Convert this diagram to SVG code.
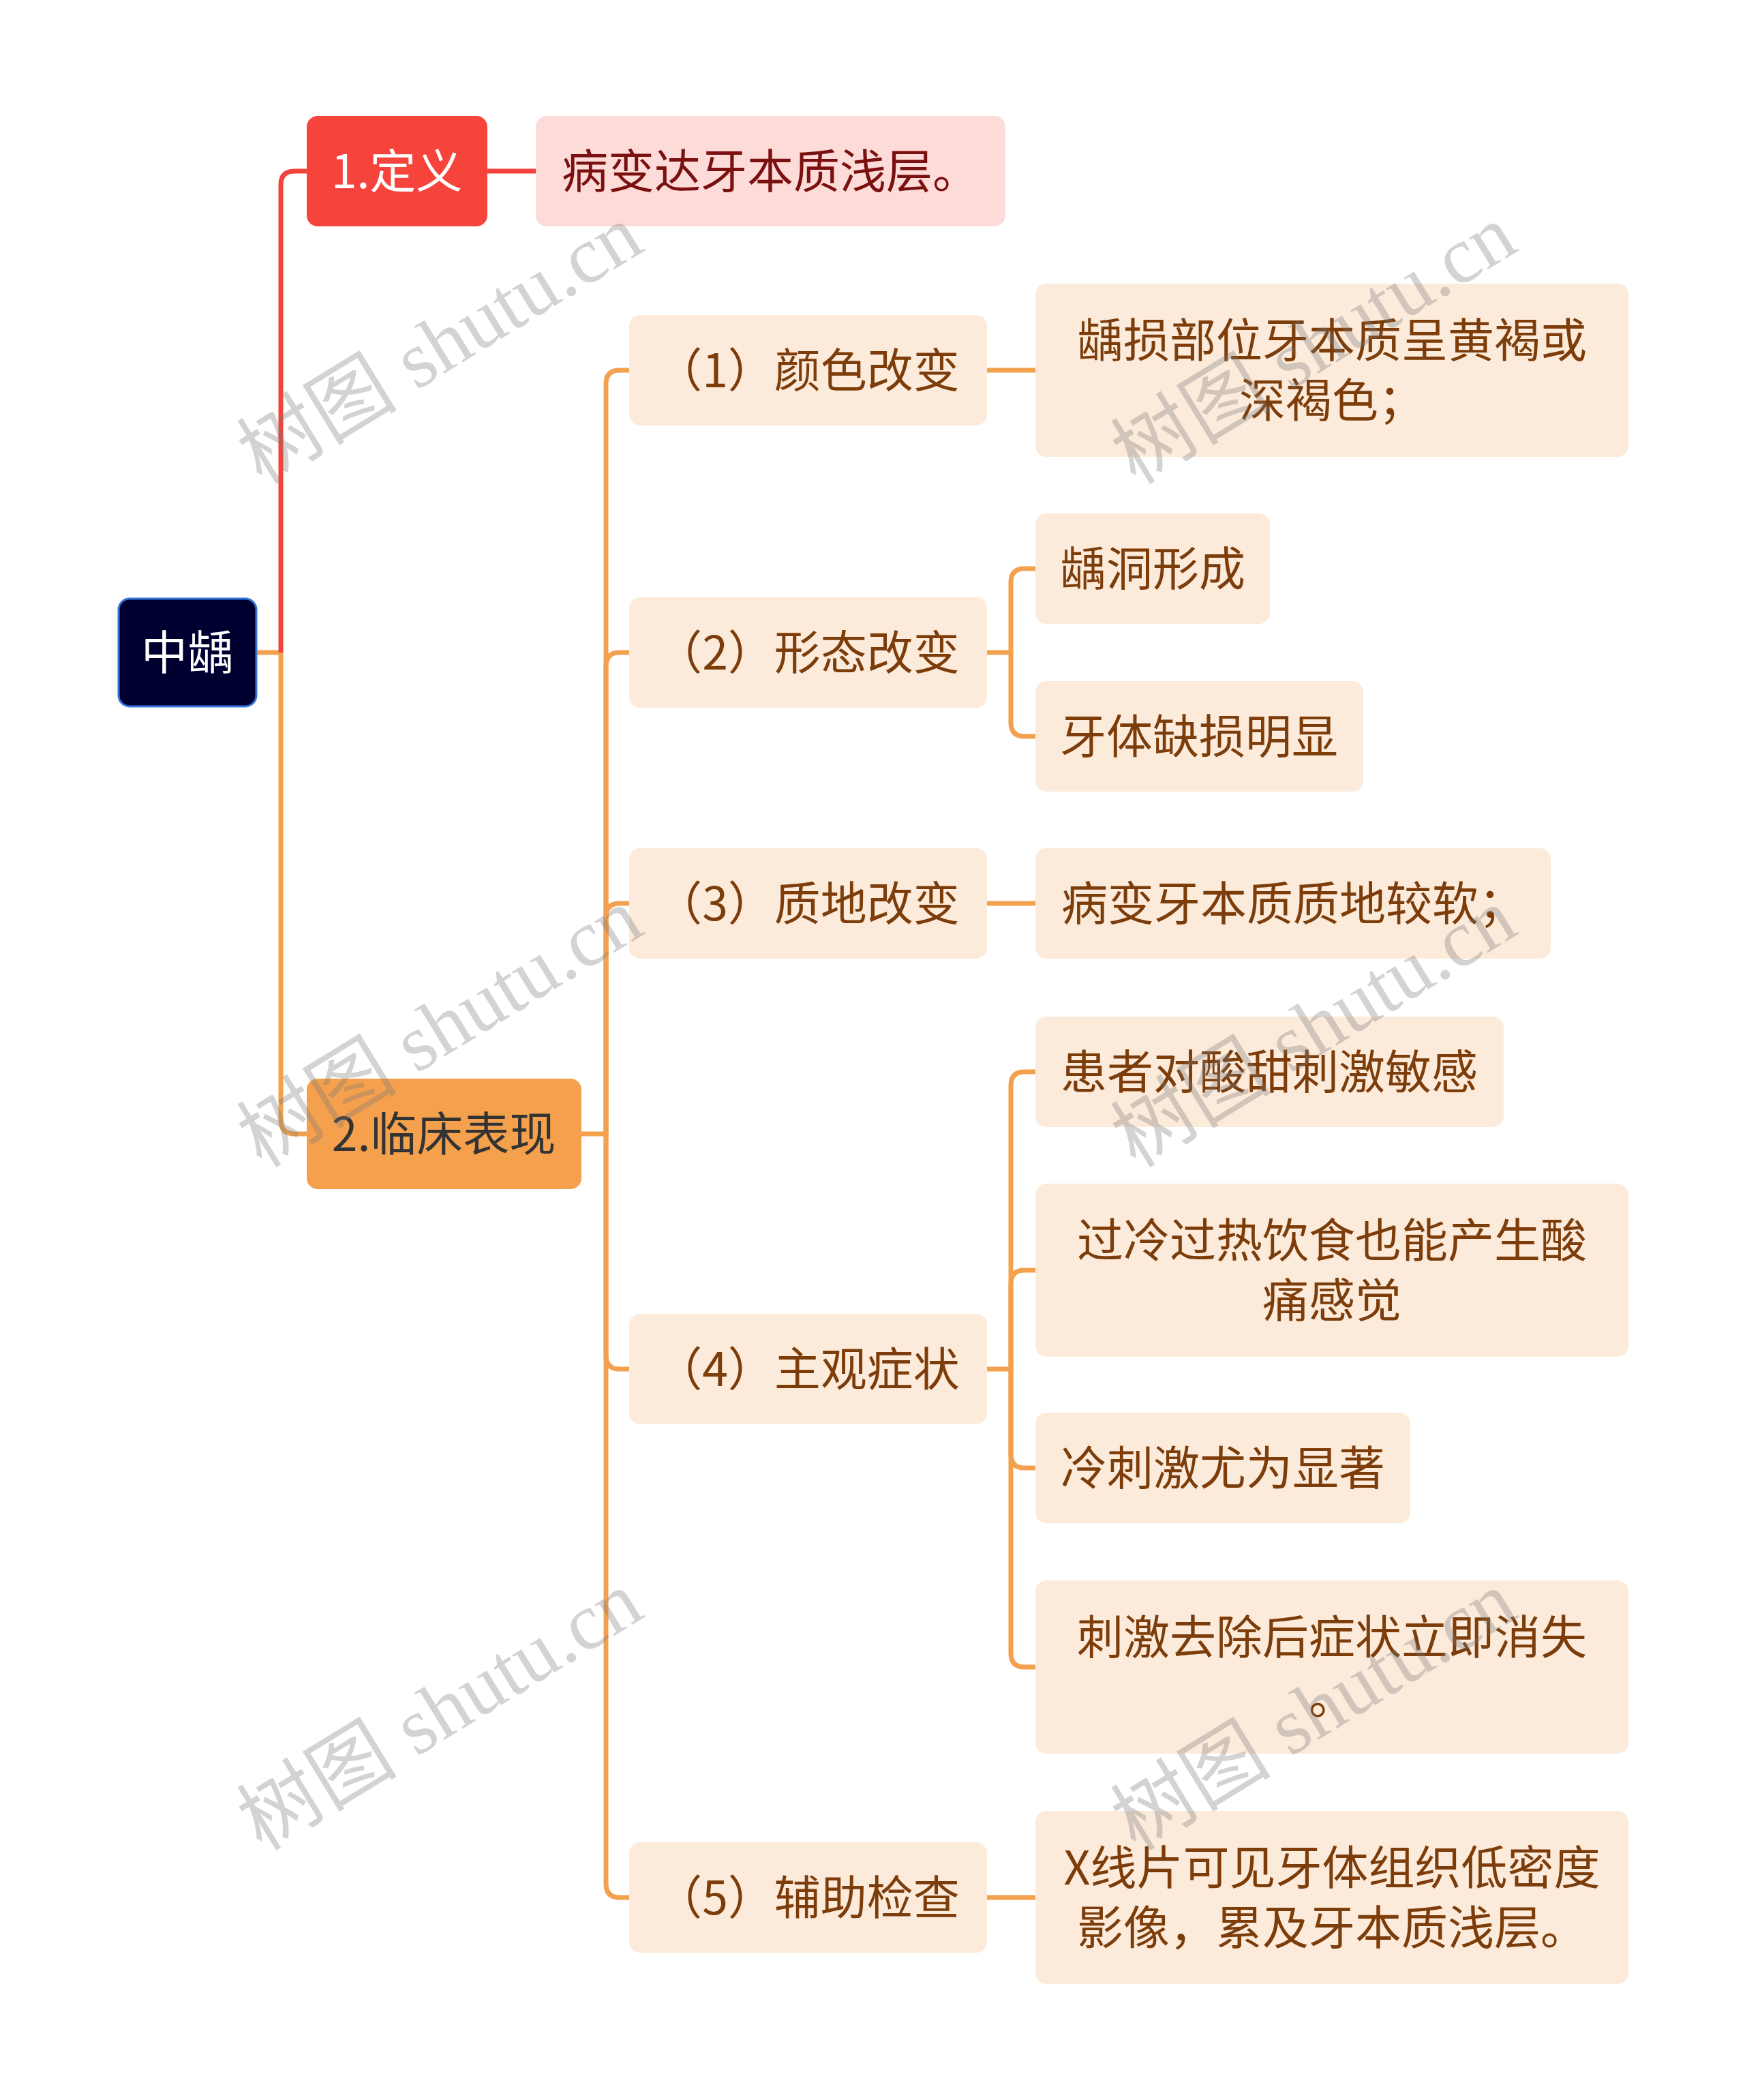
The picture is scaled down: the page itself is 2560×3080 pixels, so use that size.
<svg xmlns="http://www.w3.org/2000/svg" width="2560" height="3080" viewBox="0 0 2560 3080">
<style>
text{font-family:"Noto Sans CJK SC","Noto Sans",sans-serif;font-size:68px;text-anchor:middle}
.lv2 rect{fill:#fcebdb}
.lv2 text,.lv3 text{fill:#7c3d0b}
.lv3 rect{fill:#fcebdb}
.c{fill:none;stroke-width:7;stroke-linejoin:round}
.o{stroke:#f3a14f}
.r{stroke:#f2443d}
.wm{font-family:"Liberation Serif","Noto Sans CJK SC",serif;font-size:118px;fill:#7a7a7a;fill-opacity:0.33;text-anchor:start}
</style>
<rect width="2560" height="3080" fill="#ffffff"/>
<g id="connectors">
<path class="c o" d="M377 957 H412 V1643 Q412 1663 432 1663 H450"/>
<path class="c r" d="M412 957 V271 Q412 251 432 251 H450"/>
<path class="c r" d="M715 251 H786"/>
<path class="c o" d="M853 1663 H889 V563 Q889 543 909 543 H923"/>
<path class="c o" d="M889 1663 V977 Q889 957 909 957 H923"/>
<path class="c o" d="M889 1663 V1345 Q889 1325 909 1325 H923"/>
<path class="c o" d="M889 1663 V1988 Q889 2008 909 2008 H923"/>
<path class="c o" d="M889 1663 V2763 Q889 2783 909 2783 H923"/>
<path class="c o" d="M1448 543 H1519"/>
<path class="c o" d="M1448 957 H1483 V854 Q1483 834 1503 834 H1519"/>
<path class="c o" d="M1483 957 V1060 Q1483 1080 1503 1080 H1519"/>
<path class="c o" d="M1448 1325 H1519"/>
<path class="c o" d="M1448 2008 H1483 V1592 Q1483 1572 1503 1572 H1519"/>
<path class="c o" d="M1483 2008 V1883 Q1483 1863 1503 1863 H1519"/>
<path class="c o" d="M1483 2008 V2133 Q1483 2153 1503 2153 H1519"/>
<path class="c o" d="M1483 2008 V2425 Q1483 2445 1503 2445 H1519"/>
<path class="c o" d="M1448 2783 H1519"/>
</g>
<g id="root">
<rect x="174" y="878" width="202" height="158" rx="16" fill="#000030" stroke="#3575dc" stroke-width="3"/>
<text x="275" y="982" fill="#ffffff">中龋</text>
</g>
<g id="n1">
<rect x="450" y="170" width="265" height="162" rx="16" fill="#f6443c"/>
<text x="582" y="276" fill="#ffffff">1.定义</text>
</g>
<g id="n1a">
<rect x="786" y="170" width="689" height="162" rx="16" fill="#fddbd8"/>
<text x="1130" y="276" fill="#7a1010">病变达牙本质浅层。</text>
</g>
<g id="n2">
<rect x="450" y="1582" width="403" height="162" rx="16" fill="#f4a04c"/>
<text x="651" y="1688" fill="#333333">2.临床表现</text>
</g>
<g id="c1" class="lv2">
<rect x="923" y="462" width="525" height="162" rx="16"/>
<text x="1185" y="568">（1）颜色改变</text>
</g>
<g id="c1a" class="lv3">
<rect x="1519" y="416" width="870" height="254" rx="16"/>
<text x="1954" y="524">龋损部位牙本质呈黄褐或</text>
<text x="1954" y="612">深褐色；</text>
</g>
<g id="c2" class="lv2">
<rect x="923" y="876" width="525" height="162" rx="16"/>
<text x="1185" y="982">（2）形态改变</text>
</g>
<g id="c2a" class="lv3">
<rect x="1519" y="753" width="344" height="162" rx="16"/>
<text x="1691" y="859">龋洞形成</text>
</g>
<g id="c2b" class="lv3">
<rect x="1519" y="999" width="481" height="162" rx="16"/>
<text x="1759" y="1105">牙体缺损明显</text>
</g>
<g id="c3" class="lv2">
<rect x="923" y="1244" width="525" height="162" rx="16"/>
<text x="1185" y="1350">（3）质地改变</text>
</g>
<g id="c3a" class="lv3">
<rect x="1519" y="1244" width="756" height="162" rx="16"/>
<text x="1897" y="1350">病变牙本质质地较软；</text>
</g>
<g id="c4" class="lv2">
<rect x="923" y="1927" width="525" height="162" rx="16"/>
<text x="1185" y="2033">（4）主观症状</text>
</g>
<g id="c4a" class="lv3">
<rect x="1519" y="1491" width="687" height="162" rx="16"/>
<text x="1862" y="1597">患者对酸甜刺激敏感</text>
</g>
<g id="c4b" class="lv3">
<rect x="1519" y="1736" width="870" height="254" rx="16"/>
<text x="1954" y="1844">过冷过热饮食也能产生酸</text>
<text x="1954" y="1932">痛感觉</text>
</g>
<g id="c4c" class="lv3">
<rect x="1519" y="2072" width="550" height="162" rx="16"/>
<text x="1794" y="2178">冷刺激尤为显著</text>
</g>
<g id="c4d" class="lv3">
<rect x="1519" y="2318" width="870" height="254" rx="16"/>
<text x="1954" y="2426">刺激去除后症状立即消失</text>
<text x="1954" y="2514">。</text>
</g>
<g id="c5" class="lv2">
<rect x="923" y="2702" width="525" height="162" rx="16"/>
<text x="1185" y="2808">（5）辅助检查</text>
</g>
<g id="c5a" class="lv3">
<rect x="1519" y="2656" width="870" height="254" rx="16"/>
<text x="1954" y="2764">X线片可见牙体组织低密度</text>
<text x="1954" y="2852">影像，累及牙本质浅层。</text>
</g>
<g id="watermarks">
<text class="wm" transform="translate(384 712) rotate(-31.5)">树图 shutu.cn</text>
<text class="wm" transform="translate(1666 712) rotate(-31.5)">树图 shutu.cn</text>
<text class="wm" transform="translate(384 1714) rotate(-31.5)">树图 shutu.cn</text>
<text class="wm" transform="translate(1666 1714) rotate(-31.5)">树图 shutu.cn</text>
<text class="wm" transform="translate(384 2716) rotate(-31.5)">树图 shutu.cn</text>
<text class="wm" transform="translate(1666 2716) rotate(-31.5)">树图 shutu.cn</text>
</g>
</svg>
